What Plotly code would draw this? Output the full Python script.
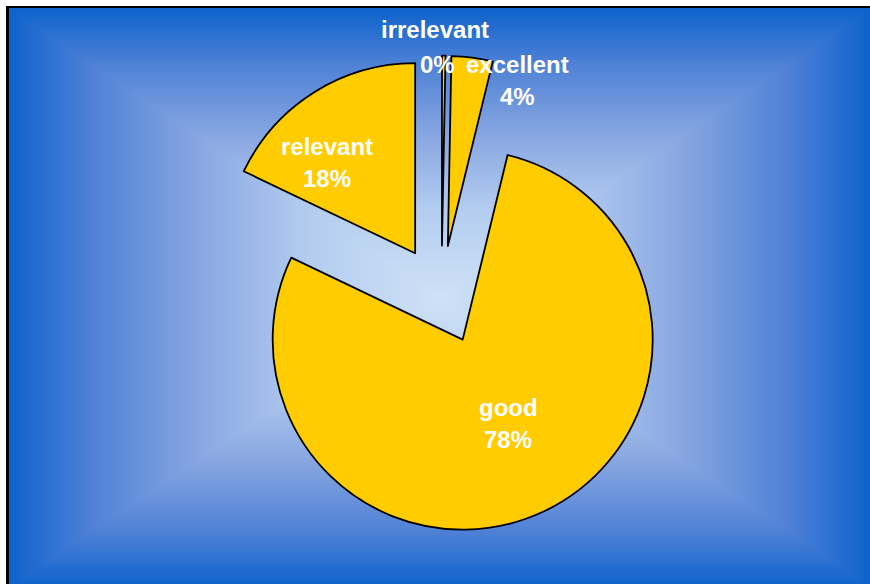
import plotly.graph_objects as go

# ---- data ----
labels = ["irrelevant", "excellent", "good", "relevant"]
values = [0.3, 3.5, 78.3, 17.9]
pulls = [0.26, 0.26, 0.26, 0.26]

W, H = 870, 584
total = sum(values)
pct_text = [f"{int(v / total * 100 + 0.5)}%" for v in values]

fig = go.Figure()
fig.add_trace(go.Pie(
    labels=labels, values=values, sort=False, direction="clockwise", rotation=0,
    pull=pulls, textinfo="none", hoverinfo="label+percent",
    marker=dict(colors=["#ffcc00"] * 4, line=dict(color="black", width=1.8)),
    domain=dict(x=[(441.5 - 300) / W, (441.5 + 300) / W],
                y=[(584 - 534.4) / H, (584 - 55.6) / H]),
    showlegend=False,
))

# ---- rectangular gradient background ----
def px(x):
    return x / W

def py(y):
    return 1 - y / H

stops = [(0.0, (13, 98, 204)), (0.2, (80, 130, 214)), (0.45, (138, 168, 226)),
         (0.7, (180, 205, 240)), (1.0, (206, 225, 246))]

def grad(t):
    for (t0, c0), (t1, c1) in zip(stops[:-1], stops[1:]):
        if t <= t1:
            f = (t - t0) / (t1 - t0)
            return tuple(int(round(c0[k] + (c1[k] - c0[k]) * f)) for k in range(3))
    return stops[-1][1]

x0, x1, y0, y1 = 8, 872, 8, 588
cx, cy = (x0 + x1) / 2, (y0 + y1) / 2
hx, hy = (x1 - x0) / 2, (y1 - y0) / 2
N = 100
shapes = []
for i in range(N):
    t = i / N
    s = 1 - t
    c = grad(t + 0.5 / N)
    shapes.append(dict(
        type="rect", xref="paper", yref="paper", layer="below",
        x0=px(cx - hx * s), x1=px(cx + hx * s),
        y0=py(cy + hy * s), y1=py(cy - hy * s),
        fillcolor=f"rgb{c}", line=dict(width=0),
    ))
# border
shapes.append(dict(type="line", xref="paper", yref="paper", x0=px(7.5), x1=px(7.5), y0=py(6), y1=py(600),
                   line=dict(color="black", width=3)))
shapes.append(dict(type="line", xref="paper", yref="paper", x0=px(6), x1=px(880), y0=py(7), y1=py(7),
                   line=dict(color="black", width=2)))

# ---- labels ----
font = dict(family="Liberation Sans, Arial", size=24, color="white")
label_pos = {
    "irrelevant": [(435, 30), (437, 65)],
    "excellent": [(517, 65), (517, 97)],
    "good": [(508, 407), (508, 439)],
    "relevant": [(327, 147), (327, 179)],
}
annotations = []
for lab, pt in zip(labels, pct_text):
    (ax, ay), (bx, by) = label_pos[lab]
    annotations.append(dict(x=px(ax), y=py(ay), xref="paper", yref="paper", text=f"<b>{lab}</b>",
                            showarrow=False, font=font, xanchor="center", yanchor="middle"))
    annotations.append(dict(x=px(bx), y=py(by), xref="paper", yref="paper", text=f"<b>{pt}</b>",
                            showarrow=False, font=font, xanchor="center", yanchor="middle"))

fig.update_layout(
    width=W, height=H, margin=dict(l=0, r=0, t=0, b=0),
    paper_bgcolor="white", plot_bgcolor="white",
    shapes=shapes, annotations=annotations,
)
fig.write_html("out.html", config={"displayModeBar": False},
               post_script="document.body.style.margin='0';document.body.style.overflow='hidden';")
